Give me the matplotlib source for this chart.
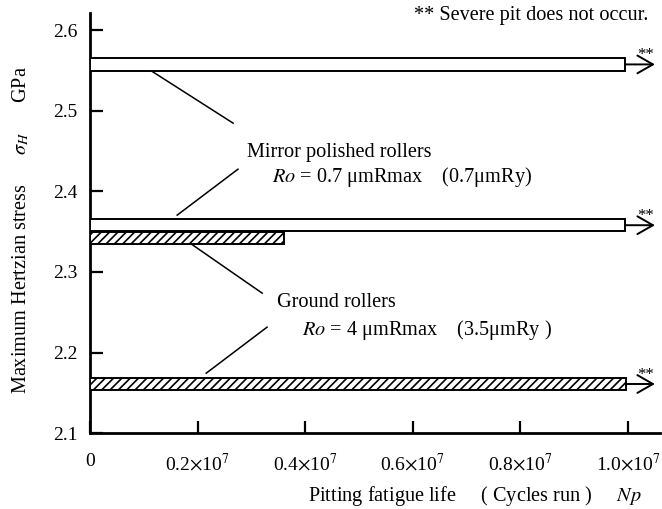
import matplotlib
matplotlib.use('Agg')
import matplotlib.pyplot as plt

plt.rcParams['font.family'] = ['Liberation Serif', 'DejaVu Serif']
plt.rcParams['mathtext.fontset'] = 'stix'
plt.rcParams['hatch.linewidth'] = 1.2

# Mirror polished rollers (white bars)
mirror_stress = [2.5575, 2.358]
mirror_life = [0.995e7, 0.995e7]
mirror_runout = [True, True]

# Ground rollers (hatched bars)
ground_stress = [2.342, 2.161]
ground_life = [0.36e7, 0.997e7]
ground_runout = [False, True]

bar_h = 0.0155
arrow_tip = 1.05e7

xticks = [0, 0.2e7, 0.4e7, 0.6e7, 0.8e7, 1.0e7]
xticklabels = ['0', r'0.2$\times$10$^7$', r'0.4$\times$10$^7$',
               r'0.6$\times$10$^7$', r'0.8$\times$10$^7$', r'1.0$\times$10$^7$']
yticks = [2.1, 2.2, 2.3, 2.4, 2.5, 2.6]

# leader lines (from bar edge to label)
mirror_leaders = [((1.15e6, 2.549), (2.66e6, 2.4846)),
                  ((1.62e6, 2.3705), (2.75e6, 2.4275))]
ground_leaders = [((1.86e6, 2.3357), (3.2e6, 2.2737)),
                  ((2.16e6, 2.1744), (3.29e6, 2.2315))]

fig = plt.figure(figsize=(6.62, 5.09), dpi=100)
ax = fig.add_axes([0.136, 0.149, 0.861, 0.825])

ax.barh(mirror_stress, mirror_life, height=bar_h, left=0, color='white',
        edgecolor='black', linewidth=1.4, zorder=3)
ax.barh(ground_stress, ground_life, height=bar_h, left=0, color='white',
        edgecolor='black', linewidth=1.4, hatch='////', zorder=3)

# run-out arrows with **
for y, n, r in zip(mirror_stress + ground_stress, mirror_life + ground_life,
                   mirror_runout + ground_runout):
    if not r:
        continue
    ax.annotate('', xy=(arrow_tip, y), xytext=(n, y),
                arrowprops=dict(arrowstyle='->,head_length=0.7,head_width=0.4',
                                lw=1.4, color='black', mutation_scale=16,
                                shrinkA=0, shrinkB=0))
    ax.annotate('**', xy=(arrow_tip, y), xytext=(-7, 1), textcoords='offset points',
                ha='center', va='bottom', fontsize=12)

for p0, p1 in mirror_leaders + ground_leaders:
    ax.plot([p0[0], p1[0]], [p0[1], p1[1]], color='black', lw=1.1)

fs = 14.6
ax.text(2.92e6, 2.4486, 'Mirror polished rollers', fontsize=fs, va='center')
ax.text(3.38e6, 2.4176, r'$Ro$ = 0.7 μmRmax    (0.7μmRy)', fontsize=fs, va='center')
ax.text(3.48e6, 2.2625, 'Ground rollers', fontsize=fs, va='center')
ax.text(3.94e6, 2.2278, r'$Ro$ = 4 μmRmax    (3.5μmRy )', fontsize=fs, va='center')
ax.text(1.037e7, 2.6186, '** Severe pit does not occur.', fontsize=fs,
        va='center', ha='right')

ax.set_xlim(0, 1.0595e7)
ax.set_ylim(2.1, 2.621)
ax.set_xticks(xticks)
ax.set_xticklabels(xticklabels)
ax.set_yticks(yticks)
ax.set_yticklabels(['%.1f' % v for v in yticks])
ax.tick_params(direction='in', length=9, width=1.6, labelsize=14)
ax.tick_params(axis='x', pad=14)
ax.tick_params(axis='y', pad=9)

ax.spines['right'].set_visible(False)
ax.spines['top'].set_visible(False)
ax.spines['left'].set_linewidth(2)
ax.spines['bottom'].set_linewidth(2)

ax.set_xlabel(r'Pitting fatigue life     ( Cycles run )     $Np$', fontsize=fs,
              labelpad=7, x=0.675)
ax.set_ylabel(r'Maximum Hertzian stress      $\sigma_H$      GPa', fontsize=fs,
              labelpad=16, y=0.483)

plt.savefig('out.png', dpi=100)
